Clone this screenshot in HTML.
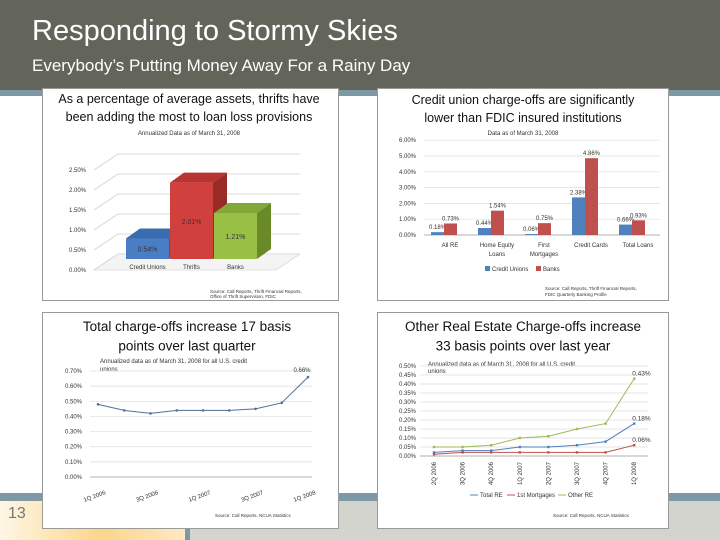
<!DOCTYPE html>
<html><head><meta charset="utf-8"><style>
html,body{margin:0;padding:0}
body{width:720px;height:540px;position:relative;overflow:hidden;background:#fff;font-family:"Liberation Sans",sans-serif}
.abs{position:absolute}
</style></head><body>
<div class="abs" style="left:0;top:0;width:720px;height:90px;background:#64655a"></div>
<div class="abs" style="left:0;top:90px;width:720px;height:6px;background:#7f98a5"></div>
<div class="abs" style="left:32px;top:15px;color:#fff;font-size:29px">Responding to Stormy Skies</div>
<div class="abs" style="left:32px;top:56px;color:#fff;font-size:17px">Everybody’s Putting Money Away For a Rainy Day</div>
<div class="abs" style="left:0;top:493px;width:720px;height:8px;background:#7f98a5"></div>
<div class="abs" style="left:0;top:501px;width:720px;height:39px;background:#d4d4ce"></div>
<div class="abs" style="left:0;top:501px;width:185px;height:39px;background:linear-gradient(90deg,#fff6e6,#fbd58a 55%,#fde9c4)"></div>
<div class="abs" style="left:185px;top:501px;width:5px;height:39px;background:#7f98a5"></div>
<div class="abs" style="left:8px;top:505px;color:#777;font-size:16px">13</div>

<svg class="abs" style="left:0;top:0" width="720" height="540" id="svg" font-family="Liberation Sans, sans-serif"></svg>

<script>
// Chart 1 data
const c1Cats=["Credit Unions","Thrifts","Banks"];
const c1Vals=[0.54,2.01,1.21];
const c1Ticks=[0,0.5,1,1.5,2,2.5];
// Chart 2 data
const c2Cats=[["All RE"],["Home Equity","Loans"],["First","Mortgages"],["Credit Cards"],["Total Loans"]];
const c2CU=[0.18,0.44,0.06,2.38,0.66];
const c2Banks=[0.73,1.54,0.75,4.86,0.93];
const c2Ticks=[0,1,2,3,4,5,6];
// Chart 3 data
const c3Cats=["1Q 2006","2Q 2006","3Q 2006","4Q 2006","1Q 2007","2Q 2007","3Q 2007","4Q 2007","1Q 2008"];
const c3Vals=[0.48,0.44,0.42,0.44,0.44,0.44,0.45,0.49,0.66];
const c3Ticks=[0,0.1,0.2,0.3,0.4,0.5,0.6,0.7];
// Chart 4 data
const c4Cats=["2Q 2006","3Q 2006","4Q 2006","1Q 2007","2Q 2007","3Q 2007","4Q 2007","1Q 2008"];
const c4Total=[0.02,0.03,0.03,0.05,0.05,0.06,0.08,0.18];
const c4Mort=[0.01,0.02,0.02,0.02,0.02,0.02,0.02,0.06];
const c4Other=[0.05,0.05,0.06,0.10,0.11,0.15,0.18,0.43];
const c4Ticks=[0,0.05,0.1,0.15,0.2,0.25,0.3,0.35,0.4,0.45,0.5];

const svg=document.getElementById('svg');
const NS="http://www.w3.org/2000/svg";
function el(tag,attrs,parent,txt){const e=document.createElementNS(NS,tag);for(const k in attrs)e.setAttribute(k,attrs[k]);if(txt!=null)e.textContent=txt;(parent||svg).appendChild(e);return e;}
function pct(v,d){return v.toFixed(d)+"%";}

const panels=[[42,88,296,212,"panel-thrift-provisions"],[377,88,291,212,"panel-chargeoff-comparison"],[42,312,296,216,"panel-total-chargeoffs"],[377,312,291,216,"panel-real-estate-chargeoffs"]];
panels.forEach(p=>{const r=el('rect',{x:p[0]+.5,y:p[1]+.5,width:p[2],height:p[3],fill:'#fff',stroke:'#9a9a9a'});

});

function title(lines,cx,y0,size){lines.forEach((l,i)=>{const t=el('text',{x:cx,y:y0+i*size*1.45,'font-size':size,'text-anchor':'middle',fill:'#111'},null,l);

});}
function small(x,y,txt,anchor,size,name){const t=el('text',{x:x,y:y,'font-size':size||6,'text-anchor':anchor||'start',fill:'#333'},null,txt);

return t;}

// ===== Chart 1 =====
title(["As a percentage of average assets, thrifts have","been adding the most to loan loss provisions"],189,103,12.5);
small(189,135,"Annualized Data as of March 31, 2008","middle",6,'chart-subtitle');
const y1=v=>270-v*40;
c1Ticks.forEach(t=>{const y=y1(t);
 const g=el('polyline',{points:`94,${y} 118,${y-16} 300,${y-16}`,fill:'none',stroke:'#d0d0d0','stroke-width':0.8});
 
 
 small(86,y+2,pct(t,2),'end',6,'y-tick-label');});
el('polygon',{points:`94,270 118,254 300,254 276,270`,fill:'#f4f4f4',stroke:'#ccc','stroke-width':0.6});
const yb1=v=>259-v*38, c1x=i=>126+i*44, bw=43, dx=14, dy=-10;
const cols=[["#4a7ec4","#2f5c9a","#3a6cb0"],["#d0413e","#9a2a28","#b83432"],["#99bf45","#6a8a2a","#82a838"]];
c1Vals.forEach((v,i)=>{const x=c1x(i),yt=yb1(v),yb=yb1(0);
 const g=el('g',{});
 
 
 el('polygon',{points:`${x},${yt} ${x+dx},${yt+dy} ${x+bw+dx},${yt+dy} ${x+bw},${yt}`,fill:cols[i][2]},g);
 el('polygon',{points:`${x+bw},${yt} ${x+bw+dx},${yt+dy} ${x+bw+dx},${yb+dy} ${x+bw},${yb}`,fill:cols[i][1]},g);
 el('rect',{x:x,y:yt,width:bw,height:yb-yt,fill:cols[i][0]},g);
 small(x+bw/2,(yt+yb)/2+3,pct(v,2),'middle',7,'bar-value-label');
 small(x+bw/2,269,c1Cats[i],'middle',6,'x-tick-label');
});
small(210,293,"Source: Call Reports, Thrift Financial Reports,","start",4.5,'source-note');
small(210,298,"Office of Thrift Supervision, FDIC","start",4.5,'source-note');

// ===== Chart 2 =====
title(["Credit union charge-offs are significantly","lower than FDIC insured institutions"],523,104,12.5);
small(523,135,"Data as of March 31, 2008","middle",6,'chart-subtitle');
const y2=v=>235-v*15.8, x2=i=>428+i*47;
c2Ticks.forEach(t=>{const y=y2(t);
 const l=el('line',{x1:424,y1:y,x2:660,y2:y,stroke:t===0?'#999':'#ddd','stroke-width':0.7});
 
 
 small(416,y+2,pct(t,2),'end',6,'y-tick-label');});
c2Cats.forEach((c,i)=>{const x=x2(i);
 [[c2CU,'#4f81bd',0],[c2Banks,'#c0504d',1]].forEach(s=>{const v=s[0][i];
  const r=el('rect',{x:x+3+s[2]*13,y:y2(v),width:13,height:y2(0)-y2(v),fill:s[1]});
  
  
  small(x+9.5+s[2]*13,y2(v)-3,pct(v,2),'middle',6,'bar-value-label');});
 c.forEach((ln,j)=>small(x+22,247+j*9,ln,'middle',6,'x-tick-label'));});
el('rect',{x:485,y:266,width:5,height:5,fill:'#4f81bd'});
small(492,271,"Credit Unions","start",6,'legend-entry');
el('rect',{x:536,y:266,width:5,height:5,fill:'#c0504d'});
small(543,271,"Banks","start",6,'legend-entry');
small(545,290,"Source: Call Reports, Thrift Financial Reports,","start",4.5,'source-note');
small(545,296,"FDIC Quarterly Banking Profile","start",4.5,'source-note');

// ===== Chart 3 =====
title(["Total charge-offs increase 17 basis","points over last quarter"],187,331,13.5);
small(100,363,"Annualized data as of March 31, 2008 for all U.S. credit","start",6,'chart-subtitle');
small(100,371,"unions","start",6,'chart-subtitle');
const y3=v=>477-v*151.4, x3=i=>98+i*26.25;
c3Ticks.forEach(t=>{const y=y3(t);
 const l=el('line',{x1:90,y1:y,x2:312,y2:y,stroke:t===0?'#999':'#ddd','stroke-width':0.7});
 
 
 small(82,y+2,pct(t,2),'end',6,'y-tick-label');});
const p3=el('polyline',{points:c3Vals.map((v,i)=>x3(i)+','+y3(v)).join(' '),fill:'none',stroke:'#4f6f9a','stroke-width':1});


c3Vals.forEach((v,i)=>el('circle',{cx:x3(i),cy:y3(v),r:1.3,fill:'#4f6f9a'}));
small(x3(8)-6,y3(c3Vals[8])-5,pct(c3Vals[8],2),'middle',6,'point-label');
c3Cats.forEach((c,i)=>{if(i%2)return;const t=small(x3(i)+8,494,c,'end',6,'x-tick-label');t.setAttribute('transform',`rotate(-20 ${x3(i)+8} 494)`);});
small(215,517,"Source: Call Reports, NCUA Statistics","start",4.5,'source-note');

// ===== Chart 4 =====
title(["Other Real Estate Charge-offs increase","33 basis points over last year"],523,331,13.5);
small(428,366,"Annualized data as of March 31, 2008 for all U.S. credit","start",6,'chart-subtitle');
small(428,373,"unions","start",6,'chart-subtitle');
const y4=v=>456-v*180, x4=i=>434+i*28.6;
c4Ticks.forEach(t=>{const y=y4(t);
 const l=el('line',{x1:420,y1:y,x2:648,y2:y,stroke:t===0?'#999':'#ddd','stroke-width':0.7});
 
 
 small(416,y+2,pct(t,2),'end',6,'y-tick-label');});
[[c4Total,'#4f81bd','total-re-line'],[c4Mort,'#c0504d','first-mortgages-line'],[c4Other,'#9bbb59','other-re-line']].forEach(s=>{
 const p=el('polyline',{points:s[0].map((v,i)=>x4(i)+','+y4(v)).join(' '),fill:'none',stroke:s[1],'stroke-width':1});
 
 
 s[0].forEach((v,i)=>el('rect',{x:x4(i)-1.2,y:y4(v)-1.2,width:2.4,height:2.4,fill:s[1]}));
 const last=s[0][s[0].length-1];
 small(x4(7)-2,y4(last)-3,pct(last,2),'start',6.5,'point-label');});
c4Cats.forEach((c,i)=>{const t=small(x4(i)+2,462,c,'end',6,'x-tick-label');t.setAttribute('transform',`rotate(-90 ${x4(i)+2} 462)`);});
[[470,'#4f81bd','Total RE'],[507,'#c0504d','1st Mortgages'],[558,'#9bbb59','Other RE']].forEach(l=>{
 el('line',{x1:l[0],y1:495,x2:l[0]+8,y2:495,stroke:l[1],'stroke-width':1});
 small(l[0]+10,497,l[2],'start',6,'legend-entry');});
small(553,517,"Source: Call Reports, NCUA Statistics","start",4.5,'source-note');
</script>
</body></html>
